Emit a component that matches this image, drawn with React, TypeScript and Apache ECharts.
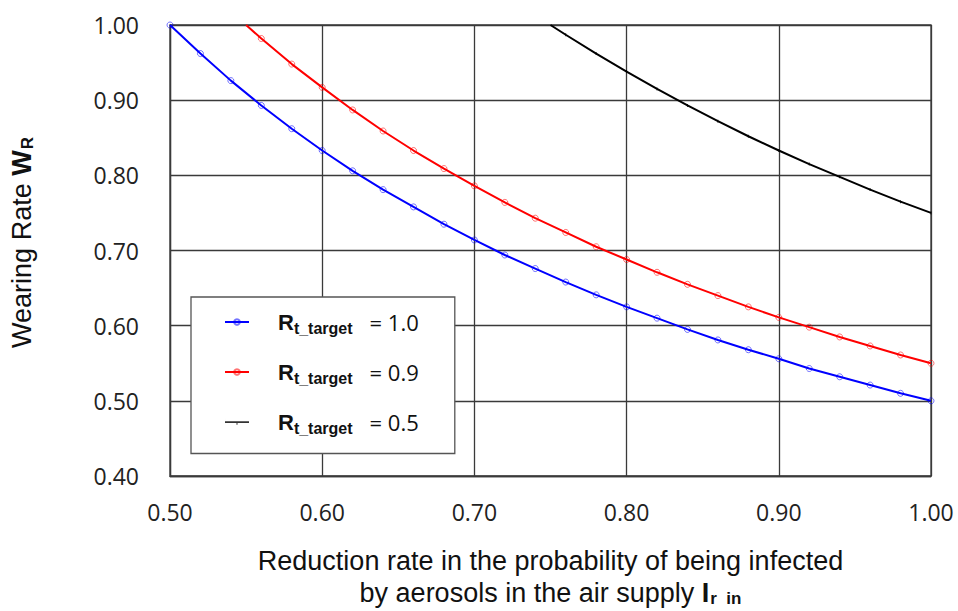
import React, { useEffect, useRef } from "react";
import * as echarts from "echarts";

const xBlue = [0.50, 0.52, 0.54, 0.56, 0.58, 0.60, 0.62, 0.64, 0.66, 0.68, 0.70, 0.72, 0.74, 0.76, 0.78, 0.80, 0.82, 0.84, 0.86, 0.88, 0.90, 0.92, 0.94, 0.96, 0.98, 1.00];
const yBlue = [1.000, 0.962, 0.926, 0.893, 0.862, 0.833, 0.806, 0.781, 0.758, 0.735, 0.714, 0.694, 0.676, 0.658, 0.641, 0.625, 0.610, 0.595, 0.581, 0.568, 0.556, 0.543, 0.532, 0.521, 0.510, 0.500];

const xRed = [0.55, 0.56, 0.58, 0.60, 0.62, 0.64, 0.66, 0.68, 0.70, 0.72, 0.74, 0.76, 0.78, 0.80, 0.82, 0.84, 0.86, 0.88, 0.90, 0.92, 0.94, 0.96, 0.98, 1.00];
const yRed = [1.000, 0.982, 0.948, 0.917, 0.887, 0.859, 0.833, 0.809, 0.786, 0.764, 0.743, 0.724, 0.705, 0.688, 0.671, 0.655, 0.640, 0.625, 0.611, 0.598, 0.585, 0.573, 0.561, 0.550];

const xBlack = [0.75, 0.76, 0.78, 0.80, 0.82, 0.84, 0.86, 0.88, 0.90, 0.92, 0.94, 0.96, 0.98, 1.00];
const yBlack = [1.000, 0.987, 0.962, 0.938, 0.915, 0.893, 0.872, 0.852, 0.833, 0.815, 0.798, 0.781, 0.765, 0.750];

const seriesNames = ["1.0", "0.9", "0.5"];
const seriesColors = ["#0000ff", "#ff0000", "#000000"];

export default function App() {
  const ref = useRef<HTMLDivElement>(null);
  useEffect(() => {
    const chart = echarts.init(ref.current!, null, { renderer: "svg" });
    const toData = (xs: number[], ys: number[], skipFirst: boolean) =>
      xs.map((x, i) =>
        skipFirst && i === 0 ? { value: [x, ys[i]], symbol: "none" } : { value: [x, ys[i]] }
      );
    const datasets = [
      toData(xBlue, yBlue, false),
      toData(xRed, yRed, true),
      toData(xBlack, yBlack, true),
    ];
    const gridColor = "#3a3a3a";
    const txt = "#111";
    chart.setOption({
      animation: false,
      backgroundColor: "#ffffff",
      grid: {
        left: 170, right: 27, top: 25, bottom: 135,
        outerBoundsMode: "none",
        containLabel: false,
        show: true, borderColor: gridColor, borderWidth: 1.3,
      },
      xAxis: {
        type: "value",
        min: 0.5,
        max: 1.0,
        interval: 0.1,
        axisLine: { show: true, lineStyle: { color: gridColor, width: 1.3 } },
        axisTick: { show: false },
        splitLine: { show: true, lineStyle: { color: gridColor, width: 1.3 } },
        axisLabel: {
          formatter: (v: number) => v.toFixed(2),
          fontFamily: "Open Sans",
          fontSize: 23,
          color: "#222",
          margin: 24,
        },
        name: "{n|Reduction rate in the probability of being infected}\n{n|by aerosols in the air supply }{b|I}{s|r  in}",
        nameLocation: "middle",
        nameGap: 69,
        nameTextStyle: {
          rich: {
            n: { fontFamily: "Liberation Sans", fontSize: 27, color: txt, lineHeight: 32 },
            b: { fontFamily: "Liberation Sans", fontSize: 27, fontWeight: "bold", color: txt, lineHeight: 32 },
            s: { fontFamily: "Liberation Sans", fontSize: 17, fontWeight: "bold", color: txt, lineHeight: 32, padding: [10, 0, 0, 1] },
          },
        },
      },
      yAxis: {
        type: "value",
        min: 0.4,
        max: 1.0,
        interval: 0.1,
        axisLine: { show: true, lineStyle: { color: gridColor, width: 1.3 } },
        axisTick: { show: false },
        splitLine: { show: true, lineStyle: { color: gridColor, width: 1.3 } },
        axisLabel: {
          formatter: (v: number) => v.toFixed(2),
          fontFamily: "Open Sans",
          fontSize: 23,
          color: "#222",
          margin: 31,
        },
        name: "{n|Wearing Rate }{b|W}{s|R}",
        nameLocation: "middle",
        nameRotate: 90,
        nameGap: 134,
        nameTextStyle: {
          padding: [0, 0, 0, 16],
          rich: {
            n: { fontFamily: "Liberation Sans", fontSize: 27, color: txt },
            b: { fontFamily: "Liberation Sans", fontSize: 27, fontWeight: "bold", color: txt },
            s: { fontFamily: "Liberation Sans", fontSize: 17, fontWeight: "bold", color: txt, padding: [12, 0, 0, 1] },
          },
        },
      },
      legend: {
        orient: "vertical",
        left: 191,
        top: 297,
        padding: [14, 36, 17, 33],
        itemGap: 24.5,
        itemWidth: 24,
        itemHeight: 7,
        backgroundColor: "#fff",
        borderColor: "#555",
        borderWidth: 1.3,
        borderRadius: 0,
        data: [
          { name: seriesNames[0] },
          { name: seriesNames[1] },
          { name: seriesNames[2], icon: "path://M0,0h0.01v7h-0.01z M0,2.8h24v1.6h-24z M11.5,4.4h1v1.8h-1z", itemStyle: { borderWidth: 0 } },
        ],
        formatter: (name: string) => `{sp|}{R|R}{s|t_target}{e|= ${name}}`,
        textStyle: {
          rich: {
            sp: { width: 24 },
            R: { fontFamily: "Liberation Sans", fontSize: 22, fontWeight: "bold", color: txt, lineHeight: 26 },
            s: { fontFamily: "Liberation Sans", fontSize: 16, fontWeight: "bold", color: txt, padding: [13, 0, 0, 0] },
            e: { fontFamily: "Open Sans", fontSize: 22, color: txt, lineHeight: 26, padding: [0, 0, 0, 17] },
          },
        },
      },
      series: seriesNames.map((n, i) => ({
        name: n,
        type: "line",
        data: datasets[i],
        showSymbol: true,
        symbol: i === 2 ? "rect" : "circle",
        symbolSize: i === 2 ? [1, 3] : 6,
        lineStyle: { color: seriesColors[i], width: 2 },
        itemStyle:
          i === 2
            ? { color: seriesColors[i], borderWidth: 0, opacity: 0.8 }
            : { color: "rgba(255,255,255,0)", borderColor: seriesColors[i], borderWidth: 1, opacity: 0.55 },
        z: 3,
      })),
    });
    return () => chart.dispose();
  }, []);
  return <div ref={ref} style={{ width: 958, height: 611, position: "absolute", left: 0, top: 0 }} />;
}
